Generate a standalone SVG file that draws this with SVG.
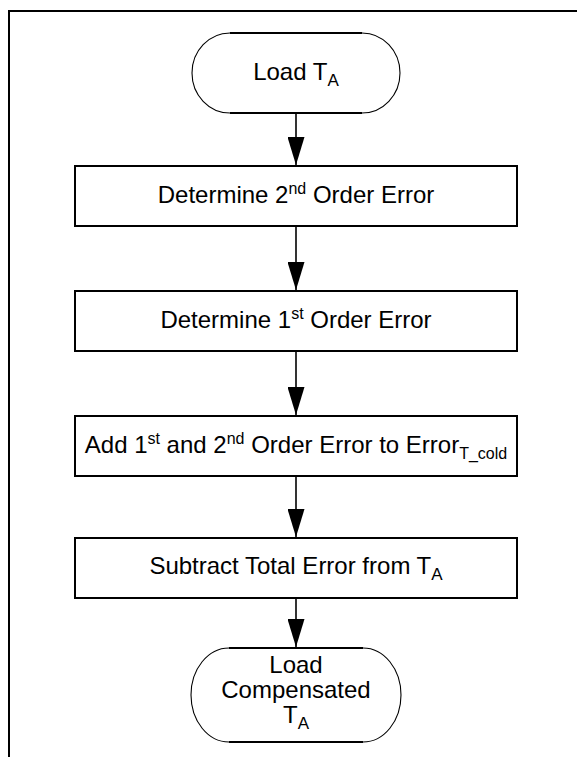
<svg xmlns="http://www.w3.org/2000/svg" width="577" height="757" viewBox="0 0 577 757">
<defs>
<style>
.txt{font-family:"Liberation Sans",Arial,Helvetica,sans-serif;font-size:24px;fill:#000;text-anchor:middle}
.box{fill:#fff;stroke:#000;stroke-width:2}
.arc{fill:#fff;stroke:#000;stroke-width:1.1}
.edge{stroke:#000;stroke-width:2;fill:none}
.conn{stroke:#000;stroke-width:1.6;fill:none}
.frame{stroke:#000;stroke-width:2;fill:none}
</style>
<marker id="ah" markerUnits="userSpaceOnUse" viewBox="0 0 28 17" markerWidth="28" markerHeight="17" refX="28" refY="8.5" orient="auto">
<path d="M0,0 L28,8.5 L0,17 Z" fill="#000"/>
</marker>
</defs>
<rect width="577" height="757" fill="#fff"/>
<path class="frame" d="M8,11 H577 M9,10 V757"/>
<g id="connectors">
<line class="conn" x1="296" y1="113" x2="296" y2="165" marker-end="url(#ah)"/>
<line class="conn" x1="296" y1="226" x2="296" y2="290" marker-end="url(#ah)"/>
<line class="conn" x1="296" y1="351" x2="296" y2="415" marker-end="url(#ah)"/>
<line class="conn" x1="296" y1="476" x2="296" y2="537" marker-end="url(#ah)"/>
<line class="conn" x1="296" y1="598" x2="296" y2="647" marker-end="url(#ah)"/>
</g>
<g id="start">
<path class="arc" d="M230,33 H362 A38,40 0 0 1 362,113 H230 A38,40 0 0 1 230,33 Z"/>
<path class="edge" d="M230,33 H362 M230,113 H362"/>
<text class="txt" x="296" y="80">Load T<tspan dy="6" font-size="17">A</tspan></text>
</g>
<g id="step1">
<rect class="box" x="75" y="166" width="442" height="60"/>
<text class="txt" x="296" y="203">Determine 2<tspan dy="-9" font-size="16">nd</tspan><tspan dy="9"> Order Error</tspan></text>
</g>
<g id="step2">
<rect class="box" x="75" y="291" width="442" height="60"/>
<text class="txt" x="296" y="328">Determine 1<tspan dy="-9" font-size="16">st</tspan><tspan dy="9"> Order Error</tspan></text>
</g>
<g id="step3">
<rect class="box" x="75" y="416" width="442" height="60"/>
<text class="txt" x="296" y="453">Add 1<tspan dy="-9" font-size="16">st</tspan><tspan dy="9"> and 2</tspan><tspan dy="-9" font-size="16">nd</tspan><tspan dy="9"> Order Error to Error</tspan><tspan dy="6" font-size="16">T_cold</tspan></text>
</g>
<g id="step4">
<rect class="box" x="75" y="538" width="442" height="60"/>
<text class="txt" x="296" y="574">Subtract Total Error from T<tspan dy="6" font-size="17">A</tspan></text>
</g>
<g id="end">
<path class="arc" d="M229,648 H363 A38,47 0 0 1 363,742 H229 A38,47 0 0 1 229,648 Z"/>
<path class="edge" d="M229,648 H363 M229,742 H363"/>
<text class="txt" x="296" y="673">Load</text>
<text class="txt" x="296" y="698">Compensated</text>
<text class="txt" x="296" y="723">T<tspan dy="6" font-size="17">A</tspan></text>
</g>
</svg>
